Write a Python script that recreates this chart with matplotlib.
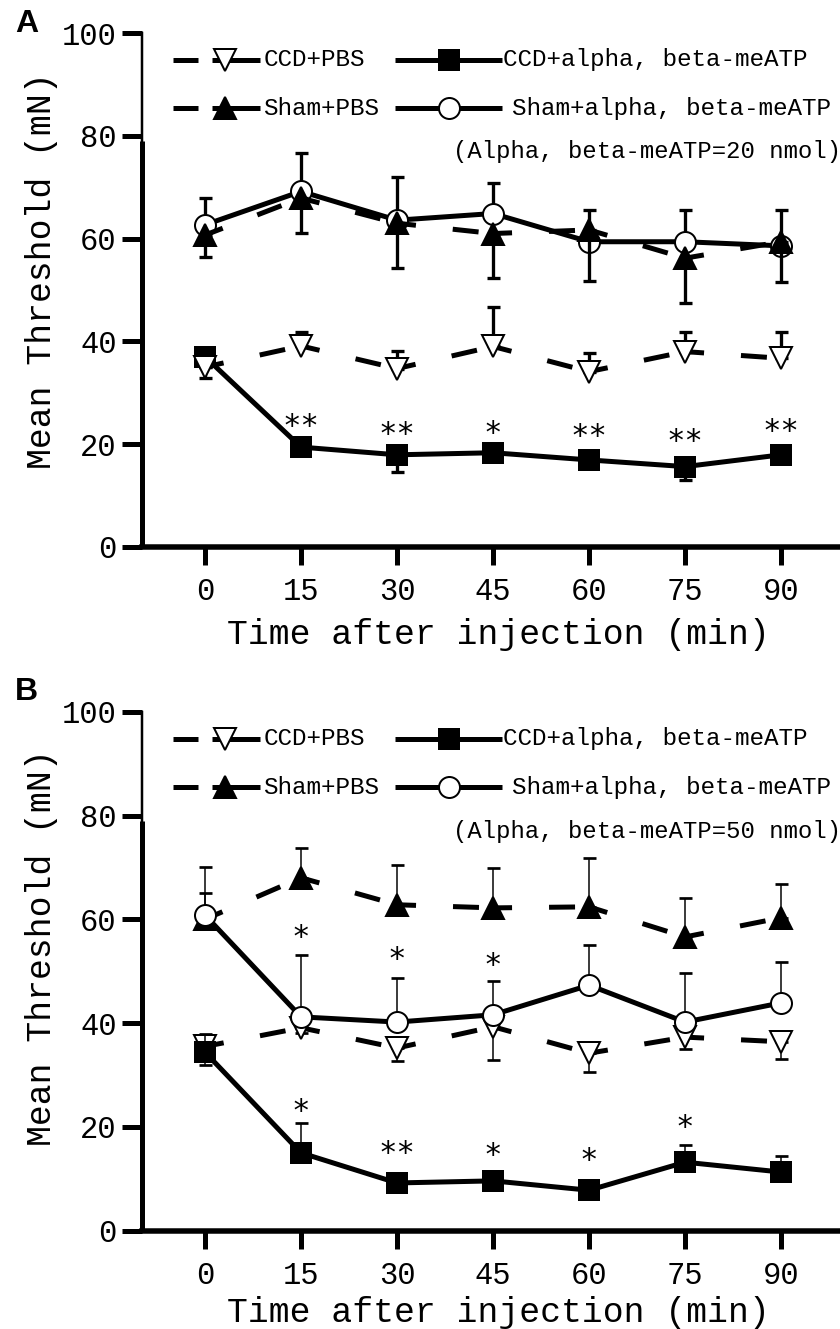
import matplotlib
matplotlib.use("Agg")
import matplotlib.pyplot as plt
import matplotlib.transforms as mtransforms

plt.rcParams['lines.scale_dashes'] = False
plt.rcParams['font.family'] = ['Liberation Mono', 'DejaVu Sans']

# ---------------- data ----------------
times = [0, 15, 30, 45, 60, 75, 90]
time_labels = ['0', '15', '30', '45', '60', '75', '90']
y_ticks = [0, 20, 40, 60, 80, 100]
y_tick_labels = ['0', '20', '40', '60', '80', '100']

series_names = ['CCD+PBS', 'CCD+alpha, beta-meATP', 'Sham+PBS', 'Sham+alpha, beta-meATP']

# Panel A (alpha,beta-meATP = 20 nmol)
ccd_pbs_A = [35.0, 39.1, 34.7, 39.0, 34.1, 38.0, 36.7]
ccd_pbs_A_err = [0.0, 2.8, 3.5, 7.7, 3.7, 3.9, 5.1]          # drawn upward
ccd_alpha_A = [37.0, 19.4, 17.9, 18.3, 16.9, 15.6, 17.9]
ccd_alpha_A_err = [4.2, 1.0, 3.3, 1.0, 1.0, 2.6, 1.0]        # drawn downward
sham_pbs_A = [60.7, 67.9, 63.0, 61.0, 61.7, 56.2, 59.4]
sham_pbs_A_err = [4.2, 6.8, 8.8, 8.7, 9.9, 8.7, 7.8]         # drawn downward
sham_alpha_A = [62.7, 69.2, 63.6, 64.9, 59.4, 59.4, 58.6]
sham_alpha_A_err = [5.2, 7.5, 8.5, 5.9, 6.2, 6.2, 7.0]       # drawn upward

stars_A_times = [15, 30, 45, 60, 75, 90]
stars_A_y = [24.5, 23.1, 23.2, 22.7, 21.6, 23.6]
stars_A_text = ['**', '**', '*', '**', '**', '**']

# Panel B (alpha,beta-meATP = 50 nmol)
ccd_pbs_B = [35.5, 39.1, 35.2, 39.3, 34.2, 37.3, 36.4]
ccd_pbs_B_err = [3.6, 1.0, 2.5, 6.5, 3.6, 2.3, 3.3]          # downward
ccd_alpha_B = [34.4, 15.0, 9.2, 9.6, 7.8, 13.2, 11.3]
ccd_alpha_B_err = [3.5, 5.7, 1.0, 1.0, 1.0, 3.3, 3.1]        # upward
sham_pbs_B = [60.0, 68.0, 62.8, 62.2, 62.4, 56.6, 60.3]
sham_pbs_B_err = [10.1, 5.7, 7.7, 7.7, 9.4, 7.5, 6.5]        # upward
sham_alpha_B = [60.8, 41.2, 40.2, 41.6, 47.3, 40.2, 43.9]
sham_alpha_B_err = [4.2, 11.9, 8.4, 6.6, 7.8, 9.5, 7.8]      # upward

stars_B_times = [15, 30, 45, 15, 30, 45, 60, 75]
stars_B_y = [57.6, 53.4, 52.2, 24.2, 16.1, 15.6, 14.6, 21.0]
stars_B_text = ['*', '*', '*', '*', '**', '*', '*', '*']

dose_notes = ['(Alpha, beta-meATP=20 nmol)', '(Alpha, beta-meATP=50 nmol)']
panel_letters = ['A', 'B']

# ---------------- style helpers ----------------
W, H = 840, 1329
def px(v):
    return v * 0.72  # pixels -> points at 100 dpi

DASH = (px(19), px(37), px(26), px(300))
STYLE = {
    'CCD+PBS': dict(marker='v', mfc='white', dashed=True, ms=22),
    'CCD+alpha, beta-meATP': dict(marker='s', mfc='black', dashed=False, ms=20),
    'Sham+PBS': dict(marker='^', mfc='black', dashed=True, ms=22),
    'Sham+alpha, beta-meATP': dict(marker='o', mfc='white', dashed=False, ms=21),
}

XMIN, XMAX = -9.89, 99.2

def draw_series(ax, name, y, err, side, z, elw, capthick):
    st = STYLE[name]
    lower = [e if side == 'down' else 0 for e in err]
    upper = [e if side == 'up' else 0 for e in err]
    ax.errorbar(times, y, yerr=[lower, upper], fmt='none', ecolor='black',
                elinewidth=elw, capsize=px(6.5), capthick=capthick, zorder=z)
    if st['dashed']:
        for i in range(len(times) - 1):
            ax.plot(times[i:i + 2], y[i:i + 2], color='black', lw=px(5),
                    dashes=DASH, dash_capstyle='butt', zorder=z + 0.1)
    else:
        ax.plot(times, y, color='black', lw=px(5), zorder=z + 0.1)
    ax.plot(times, y, ls='none', marker=st['marker'], ms=px(st['ms']),
            mfc=st['mfc'], mec='black', mew=px(2), zorder=z + 0.2)

def draw_stars(ax, xs, ys, labels):
    tr = mtransforms.offset_copy(ax.transData, fig=ax.figure, x=0, y=-px(6), units='points')
    for t, yy, s in zip(xs, ys, labels):
        ax.text(t, yy, s, fontsize=22, family='DejaVu Sans Mono', ha='center',
                va='center', zorder=12, transform=tr)

def draw_legend(ax, note):
    rows = [94.8, 85.4]
    fs = 17.5
    for name, yy in zip(['CCD+PBS', 'Sham+PBS'], rows):
        st = STYLE[name]
        ax.plot([-4.99, -1.09], [yy, yy], color='black', lw=px(5),
                solid_capstyle='butt', clip_on=False, zorder=10)
        ax.plot([1.09, 8.58], [yy, yy], color='black', lw=px(5),
                solid_capstyle='butt', clip_on=False, zorder=10)
        ax.plot([3.12], [yy], ls='none', marker=st['marker'], ms=px(st['ms']),
                mfc=st['mfc'], mec='black', mew=px(2), zorder=11, clip_on=False)
        ax.text(9.1, yy, name, fontsize=fs, ha='left', va='center', zorder=11)
    for name, yy, tx in zip(['CCD+alpha, beta-meATP', 'Sham+alpha, beta-meATP'], rows, [46.5, 47.9]):
        st = STYLE[name]
        ax.plot([29.65, 46.35], [yy, yy], color='black', lw=px(5),
                solid_capstyle='butt', clip_on=False, zorder=10)
        ax.plot([38.08], [yy], ls='none', marker=st['marker'], ms=px(st['ms']),
                mfc=st['mfc'], mec='black', mew=px(2), zorder=11, clip_on=False)
        ax.text(tx, yy, name, fontsize=fs, ha='left', va='center', zorder=11)
    ax.text(38.7, 77.0, note, fontsize=17.2, ha='left', va='center', zorder=11)

def style_axes(ax, xlabel_y, ylabel_y):
    ax.set_xlim(XMIN, XMAX)
    ax.set_ylim(0, 100)
    ax.spines['top'].set_visible(False)
    ax.spines['right'].set_visible(False)
    ax.spines['bottom'].set_linewidth(px(5.5))
    ax.spines['left'].set_linewidth(px(2.5))
    ax.axvline(XMIN, 0, 0.79, color='black', lw=px(5), clip_on=False,
               solid_capstyle='butt', zorder=3)
    ax.set_xticks(times)
    ax.set_xticklabels(time_labels)
    ax.set_yticks(y_ticks)
    ax.set_yticklabels(y_tick_labels)
    ax.tick_params(axis='x', direction='out', length=px(18), width=px(5),
                   labelsize=22, pad=px(12))
    ax.tick_params(axis='y', direction='out', length=px(20), width=px(5),
                   labelsize=22, pad=px(5))
    ax.set_xlabel('Time after injection (min)', fontsize=25)
    ax.set_ylabel('Mean Threshold (mN)', fontsize=25)
    ax.xaxis.set_label_coords(0.511, xlabel_y)
    ax.yaxis.set_label_coords(-0.12, ylabel_y)

fig = plt.figure(figsize=(W / 100, H / 100), dpi=100)
axA = fig.add_axes([141.7 / W, 1 - 546.7 / H, 1 - 141.7 / W, (546.7 - 33.3) / H])
axB = fig.add_axes([141.7 / W, 1 - 1230.7 / H, 1 - 141.7 / W, (1230.7 - 711.7) / H])

# Panel A: triangles drawn over circles/squares
draw_series(axA, 'Sham+alpha, beta-meATP', sham_alpha_A, sham_alpha_A_err, 'up', 4, px(3.3), px(3.3))
draw_series(axA, 'Sham+PBS', sham_pbs_A, sham_pbs_A_err, 'down', 5, px(3.3), px(3.3))
draw_series(axA, 'CCD+alpha, beta-meATP', ccd_alpha_A, ccd_alpha_A_err, 'down', 6, px(3.3), px(3.3))
draw_series(axA, 'CCD+PBS', ccd_pbs_A, ccd_pbs_A_err, 'up', 7, px(3.3), px(3.3))
draw_stars(axA, stars_A_times, stars_A_y, stars_A_text)

# Panel B
draw_series(axB, 'Sham+PBS', sham_pbs_B, sham_pbs_B_err, 'up', 4, px(1.5), px(2.7))
draw_series(axB, 'CCD+PBS', ccd_pbs_B, ccd_pbs_B_err, 'down', 5, px(1.5), px(2.7))
draw_series(axB, 'CCD+alpha, beta-meATP', ccd_alpha_B, ccd_alpha_B_err, 'up', 6, px(1.5), px(2.7))
draw_series(axB, 'Sham+alpha, beta-meATP', sham_alpha_B, sham_alpha_B_err, 'up', 7, px(1.5), px(2.7))
draw_stars(axB, stars_B_times, stars_B_y, stars_B_text)

draw_legend(axA, dose_notes[0])
draw_legend(axB, dose_notes[1])
style_axes(axA, -0.139, 0.538)
style_axes(axB, -0.126, 0.545)

fig.text(15 / W, 1 - 9 / H, panel_letters[0], fontsize=23, fontweight='bold',
         family='Liberation Sans', ha='left', va='top')
fig.text(15 / W, 1 - 677 / H, panel_letters[1], fontsize=23, fontweight='bold',
         family='Liberation Sans', ha='left', va='top')

fig.savefig('out.png', dpi=100)
